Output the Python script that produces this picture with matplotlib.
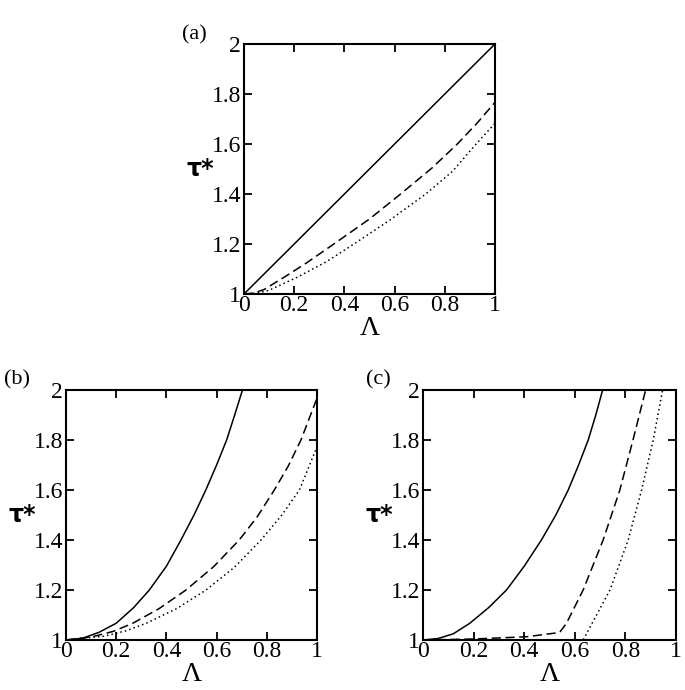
import matplotlib
matplotlib.use("Agg")
import matplotlib.pyplot as plt

# ---- data ----
# panel (a)
a_solid_x = [0, 1.0]
a_solid = [1.0, 2.0]
a_dash_x = [0, 0.04, 0.08, 0.16, 0.25, 0.358, 0.5, 0.624, 0.75, 0.85, 0.93, 1.0]
a_dash = [1.0, 1.004, 1.018, 1.067, 1.125, 1.2, 1.3, 1.4, 1.505, 1.6, 1.685, 1.767]
a_dot_x = [0, 0.05, 0.1, 0.212, 0.33, 0.438, 0.58, 0.724, 0.83, 0.925, 1.0]
a_dot = [1.0, 1.003, 1.015, 1.067, 1.13, 1.2, 1.295, 1.4, 1.49, 1.6, 1.683]

# panel (b)
b_solid_x = [0, 0.066, 0.13, 0.2, 0.27, 0.332, 0.4, 0.458, 0.51, 0.557, 0.6, 0.64, 0.672, 0.703]
b_solid = [1.0, 1.007, 1.03, 1.067, 1.13, 1.2, 1.295, 1.4, 1.5, 1.6, 1.7, 1.8, 1.9, 2.0]
b_dash_x = [0, 0.106, 0.19, 0.266, 0.37, 0.478, 0.59, 0.69, 0.76, 0.83, 0.885, 0.936, 1.0]
b_dash = [1.0, 1.013, 1.035, 1.067, 1.125, 1.2, 1.295, 1.4, 1.49, 1.6, 1.695, 1.8, 1.967]
b_dot_x = [0, 0.15, 0.24, 0.32, 0.44, 0.558, 0.67, 0.777, 0.86, 0.93, 1.0]
b_dot = [1.0, 1.015, 1.037, 1.067, 1.125, 1.2, 1.29, 1.4, 1.5, 1.6, 1.773]

# panel (c)
c_solid_x = [0, 0.06, 0.12, 0.185, 0.26, 0.33, 0.4, 0.468, 0.525, 0.574, 0.615, 0.653, 0.683, 0.71]
c_solid = [1.0, 1.006, 1.025, 1.067, 1.13, 1.2, 1.295, 1.4, 1.5, 1.6, 1.7, 1.8, 1.9, 2.0]
c_dash_x = [0, 0.2, 0.41, 0.54, 0.567, 0.633, 0.712, 0.778, 0.83, 0.88]
c_dash = [1.0, 1.004, 1.013, 1.03, 1.067, 1.2, 1.4, 1.6, 1.8, 2.0]
c_dot_x = [0, 0.3, 0.633, 0.739, 0.811, 0.864, 0.91, 0.947]
c_dot = [1.0, 1.0, 1.0, 1.2, 1.4, 1.6, 1.8, 2.0]

x_ticks = [0, 0.2, 0.4, 0.6, 0.8, 1]
x_ticklabels = ["0", "0.2", "0.4", "0.6", "0.8", "1"]
y_ticks = [1, 1.2, 1.4, 1.6, 1.8, 2]
y_ticklabels = ["1", "1.2", "1.4", "1.6", "1.8", "2"]
panel_labels = ["(a)", "(b)", "(c)"]

W, H = 685, 690
fig = plt.figure(figsize=(W / 100, H / 100), dpi=100)

def px_axes(left, top, right, bottom):
    return fig.add_axes([left / W, 1 - bottom / H, (right - left) / W, (bottom - top) / H])

serif = "Liberation Serif"

def style(ax):
    ax.set_xlim(0, 1)
    ax.set_ylim(1, 2)
    ax.set_xticks(x_ticks)
    ax.set_xticklabels(x_ticklabels, family=serif, fontsize=17)
    ax.set_yticks(y_ticks)
    ax.set_yticklabels(y_ticklabels, family=serif, fontsize=17)
    ax.tick_params(direction="in", length=6, width=1.3, top=True, right=True)
    ax.tick_params(axis="x", pad=1)
    ax.tick_params(axis="y", pad=2)
    for s in ax.spines.values():
        s.set_linewidth(1.5)
    ax.set_xlabel("Λ", family=serif, fontsize=20, labelpad=0)
    ax.set_ylabel("τ*", family="DejaVu Sans", fontsize=17, fontweight="bold",
                  rotation=0, labelpad=8, va="center")

def panel_label(text, x, y):
    fig.text(x / W, 1 - y / H, text, family=serif, fontsize=16, ha="center", va="center")

lw = 1.1
dash = (0, (6, 3))
dot = (0, (1, 2))

axa = px_axes(244, 44, 495, 294)
axa.plot(a_solid_x, a_solid, color="black", lw=lw)
axa.plot(a_dash_x, a_dash, color="black", lw=lw, linestyle=dash)
axa.plot(a_dot_x, a_dot, color="black", lw=lw, linestyle=dot)
style(axa)
panel_label(panel_labels[0], 194, 35)

axb = px_axes(66, 390, 317, 640)
axb.plot(b_solid_x, b_solid, color="black", lw=lw)
axb.plot(b_dash_x, b_dash, color="black", lw=lw, linestyle=dash)
axb.plot(b_dot_x, b_dot, color="black", lw=lw, linestyle=dot)
style(axb)
panel_label(panel_labels[1], 17, 380)

axc = px_axes(423, 390, 676, 640)
axc.plot(c_solid_x, c_solid, color="black", lw=lw)
axc.plot(c_dash_x, c_dash, color="black", lw=lw, linestyle=dash)
axc.plot(c_dot_x, c_dot, color="black", lw=lw, linestyle=dot)
style(axc)
panel_label(panel_labels[2], 378, 380)

fig.savefig("out.png", dpi=100)
